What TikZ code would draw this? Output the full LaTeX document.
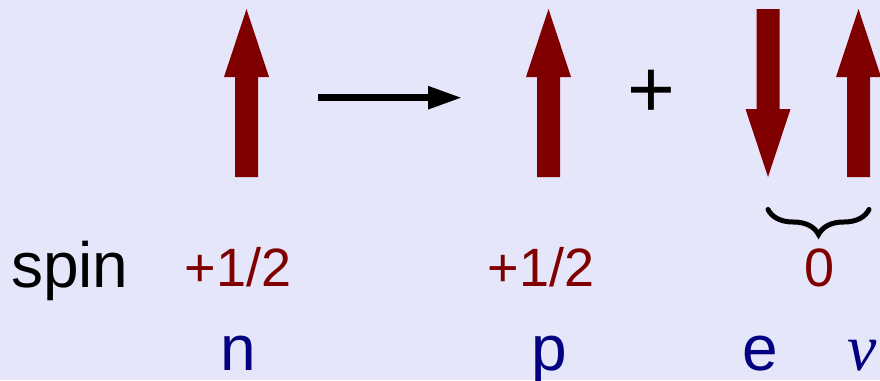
\documentclass[tikz,border=0pt]{standalone}
\usepackage{fontspec}
\setmainfont{Liberation Sans}
\newfontfamily\greekfont{Liberation Serif}
\usepackage{tikz}
\usetikzlibrary{arrows.meta,decorations.pathreplacing}
\definecolor{Lavender}{HTML}{E6E6FA}
\definecolor{SpinRed}{HTML}{800000}
\definecolor{Particle}{HTML}{000080}

\begin{document}
\begin{tikzpicture}[
    x=1pt, y=-1pt,
    spinfill/.style={fill=SpinRed},
    word/.style={inner sep=0pt, anchor=base, font=\fontsize{64}{70}\selectfont},
    spinval/.style={inner sep=0pt, anchor=base, text=SpinRed, font=\fontsize{54}{60}\selectfont},
    particle/.style={word, text=Particle},
    reaction/.style={-{Triangle[length=34pt, width=21.6pt]}, line width=6.7pt, draw=black},
    pairbrace/.style={decorate, decoration={brace, mirror, amplitude=25pt}, line width=5pt, line cap=round}
]
    \fill[Lavender] (0,0) rectangle (880,380);
    \useasboundingbox (0,0) rectangle (880,380);

    % spin arrows
    \fill[spinfill] (246.5,9) -- ++(22.5,68) -- ++(-11,0) -- ++(0,100) -- ++(-23,0) -- ++(0,-100) -- ++(-11,0) -- cycle;
    \fill[spinfill] (548.5,9) -- ++(22.5,68) -- ++(-11,0) -- ++(0,100) -- ++(-23,0) -- ++(0,-100) -- ++(-11,0) -- cycle;
    \fill[spinfill] (768,177) -- ++(22.5,-68) -- ++(-11,0) -- ++(0,-100) -- ++(-23,0) -- ++(0,100) -- ++(-11,0) -- cycle;
    \fill[spinfill] (858.5,9) -- ++(22.5,68) -- ++(-11,0) -- ++(0,100) -- ++(-23,0) -- ++(0,-100) -- ++(-11,0) -- cycle;

    \coordinate (rstart) at (318,97.7);
    \coordinate (rend) at (462,97.7);
    \draw[reaction] (rstart) -- (rend);
    \node[inner sep=0pt, font=\fontsize{82}{90}\selectfont] (plus) at (651.7,94.3) {+};

    \coordinate (braceleft) at (768,209.5);
    \coordinate (braceright) at (869,209.5);
    \draw[pairbrace] (braceleft) -- (braceright);

    \node[word, anchor=base west] (spinword) at (11,287) {spin};
    \node[spinval] (nspin) at (238,286) {+1/2};
    \node[spinval] (pspin) at (541,286) {+1/2};
    \node[spinval] (pairspin) at (820,286) {0};

    \node[particle] (nlabel) at (238,370) {n};
    \node[particle] (plabel) at (549,370) {p};
    \node[particle] (elabel) at (760.5,370) {e};
    \node[particle, font=\fontsize{66}{72}\greekfont\itshape] (nulabel) at (862,370) {ν};
\end{tikzpicture}
\end{document}
